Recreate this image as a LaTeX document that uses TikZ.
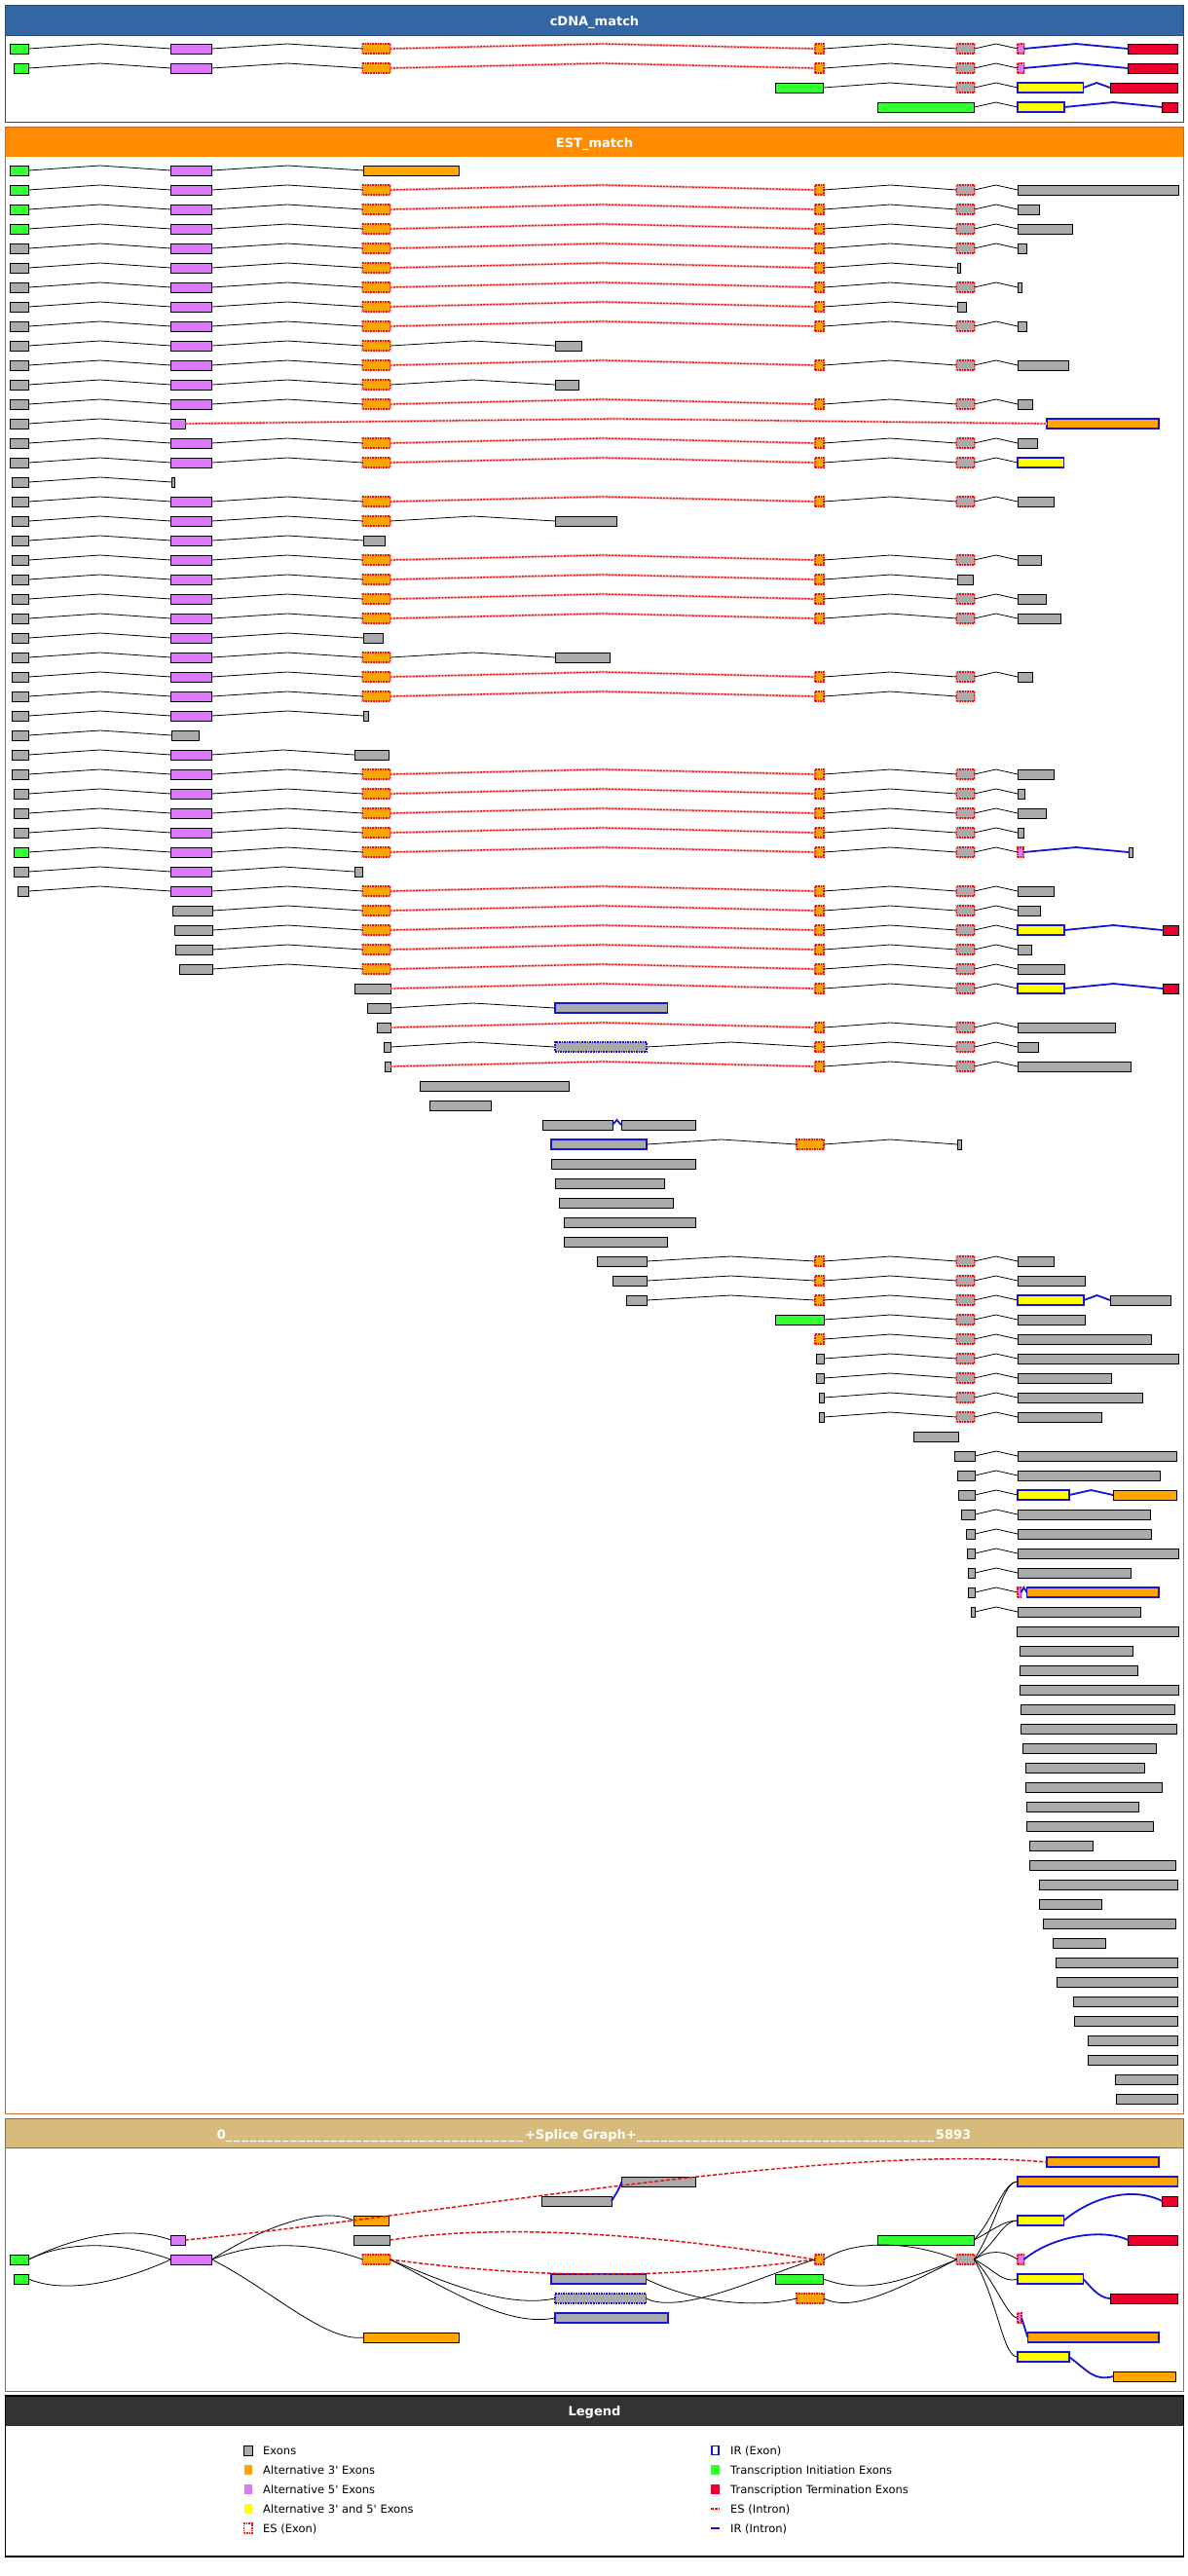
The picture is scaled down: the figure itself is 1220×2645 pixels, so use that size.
\documentclass[tikz,border=0pt]{standalone}
\usepackage{fontspec}
\usepackage{tikz}
\usetikzlibrary{calc}
\newfontfamily\df{DejaVu Sans}
\definecolor{cgray}{RGB}{170,170,170}
\definecolor{cgreen}{RGB}{51,255,51}
\definecolor{cpink}{RGB}{220,120,250}
\definecolor{corange}{RGB}{255,165,0}
\definecolor{cred}{RGB}{235,0,45}
\definecolor{cyellow}{RGB}{255,255,0}
\definecolor{cesred}{RGB}{225,20,20}
\definecolor{cirblue}{RGB}{20,20,210}
\definecolor{hblue}{RGB}{52,101,164}
\definecolor{hbborder}{RGB}{45,75,110}
\definecolor{horange}{RGB}{255,140,0}
\definecolor{hoborder}{RGB}{205,100,40}
\definecolor{htan}{RGB}{214,187,124}
\definecolor{htborder}{RGB}{125,112,95}
\definecolor{hdark}{RGB}{51,51,51}
\tikzset{
 exon/.style={rectangle, draw=black, line width=0.9pt, minimum height=10pt, inner sep=0pt, outer sep=0pt},
 eG/.style={fill=cgray}, eN/.style={fill=cgreen}, eP/.style={fill=cpink},
 eO/.style={fill=corange}, eR/.style={fill=cred}, eY/.style={fill=cyellow},
 esb/.style={draw=cesred, line width=1.1pt, dash pattern=on 1.6pt off 1pt, preaction={draw=cesred!30, line width=2.6pt, solid}},
 irb/.style={draw=cirblue, line width=1.6pt},
 ird/.style={draw=cirblue, line width=1.4pt, dash pattern=on 1.6pt off 1pt},
 eGS/.style={eG,esb}, eOS/.style={eO,esb}, ePS/.style={eP,esb},
 eOB/.style={eO,irb}, eYB/.style={eY,irb}, eGB/.style={eG,irb}, eGD/.style={eG,ird},
 intron/.style={draw=black, line width=0.8pt},
 esintron/.style={draw=cesred, line width=1.3pt, dash pattern=on 2.2pt off 1.1pt, preaction={draw=cesred!22, line width=2.8pt, solid}},
 irintron/.style={draw=cirblue, line width=1.8pt},
 sgedge/.style={draw=black, line width=0.8pt},
 sgred/.style={draw=cesred, line width=1.5pt, dash pattern=on 4pt off 2pt},
 sgblue/.style={draw=cirblue, line width=1.8pt},
 hdr/.style={text=white, font=\df\bfseries\fontsize{13pt}{15pt}\selectfont, anchor=base, inner sep=0pt},
 leg/.style={text=black, font=\df\fontsize{11.5pt}{13pt}\selectfont, anchor=base west, inner sep=0pt},
 licon/.style={rectangle, minimum width=8.5pt, minimum height=10pt, inner sep=0pt, outer sep=0pt},
}
\newcommand\intr[3]{%
  \ifcase#1\relax\or
    \draw[intron] (#2.east) -- ($(#2.east)!.5!(#3.west)+(0,-5)$) -- (#3.west);%
  \or
    \draw[esintron] (#2.east) -- ($(#2.east)!.5!(#3.west)+(0,-5)$) -- (#3.west);%
  \or
    \draw[irintron] (#2.east) -- ($(#2.east)!.5!(#3.west)+(0,-5)$) -- (#3.west);%
  \fi}
\newcommand\trk[3]{%
  \edef\trklist{#3}%
  \foreach \xa/\xb/\st/\cn [count=\k] in \trklist {%
    \pgfmathsetmacro\w{\xb-\xa}%
    \pgfmathsetmacro\xc{(\xa+\xb)/2}%
    \edef\tmp{\noexpand\node[exon,\st,minimum width=\w pt] (#1-\k) at (\xc,#2) {};}%
    \tmp
    \ifnum\cn>0
      \pgfmathtruncatemacro\kp{\k-1}%
      \edef\tmp{\noexpand\intr{\cn}{#1-\kp}{#1-\k}}%
      \tmp
    \fi
  }%
}
\newcommand\sx[5]{\pgfmathsetmacro\w{#4-#3}\pgfmathsetmacro\xc{(#3+#4)/2}\node[exon,#2,minimum width=\w pt] (#1) at (\xc,#5) {};}
\newcommand\sge[5][sgedge]{\draw[#1] (#2.east) .. controls +(#4) and +(#5) .. (#3.west);}
\newcommand\chB[2]{#1/29.5/#2/0,175.5/217.5/eP/1}
\newcommand\chC[2]{\chB{#1}{#2},372.5/400.5/eOS/1}
\newcommand\chF[2]{\chC{#1}{#2},837/846/eOS/2}
\newcommand\chH[2]{\chF{#1}{#2},982.5/1000.5/eGS/1}
\newcommand\chM{372.5/400.5/eOS/1,837/846/eOS/2,982.5/1000.5/eGS/1}
\newcommand\chT{837/846/eOS/1,982.5/1000.5/eGS/1}
\newcommand\uf{\_\kern1.8pt}
\newcommand\ut{\uf\uf\uf\uf\uf\uf\uf\uf\uf\uf}
\begin{document}
\begin{tikzpicture}[x=1pt,y=-1pt]
\useasboundingbox (0,0) rectangle (1220,2645);
\fill[white] (0,0) rectangle (1220,2645);
% ---------- cDNA panel
\fill[hblue] (5.5,5) rectangle (1215.5,36);
\draw[hbborder, line width=1pt] (5.5,5) rectangle (1215.5,125);
\draw[hbborder, line width=0.8pt] (5.5,36) -- (1215.5,36);
\node[hdr] (hcdna) at (610.5,26) {cDNA\_match};
\trk{c1}{50}{\chH{10.5}{eN},1045/1051.5/ePS/1,1158.5/1209/eR/3}
\trk{c2}{70}{\chH{14.5}{eN},1045/1051.5/ePS/1,1158.5/1209/eR/3}
\trk{c3}{90}{796.5/845.5/eN/0,982.5/1000.5/eGS/1,1045/1112.5/eYB/1,1140/1209/eR/3}
\trk{c4}{110}{901.5/1000.5/eN/0,1045/1093/eYB/1,1193.5/1209/eR/3}
% ---------- EST panel
\fill[horange] (5.5,130.5) rectangle (1215.5,160.5);
\draw[hoborder, line width=1pt] (5.5,130.5) rectangle (1215.5,2170);
\node[hdr] (hest) at (610.5,151.5) {EST\_match};
\trk{e0}{175}{\chB{10.5}{eN},373.5/471.5/eO/1}
\trk{e1}{195}{\chH{10.5}{eN},1045/1210/eG/1}
\trk{e2}{215}{\chH{10.5}{eN},1045/1067.5/eG/1}
\trk{e3}{235}{\chH{10.5}{eN},1045/1101/eG/1}
\trk{e4}{255}{\chH{10.5}{eG},1045/1054.5/eG/1}
\trk{e5}{275}{\chF{10.5}{eG},983/986/eG/1}
\trk{e6}{295}{\chH{10.5}{eG},1045/1049/eG/1}
\trk{e7}{315}{\chF{10.5}{eG},983/992/eG/1}
\trk{e8}{335}{\chH{10.5}{eG},1045/1054.5/eG/1}
\trk{e9}{355}{\chC{10.5}{eG},570.5/597/eG/1}
\trk{e10}{375}{\chH{10.5}{eG},1045/1097/eG/1}
\trk{e11}{395}{\chC{10.5}{eG},570.5/594.5/eG/1}
\trk{e12}{415}{\chH{10.5}{eG},1045/1060/eG/1}
\trk{e13}{435}{10.5/29.5/eG/0,175.5/190.5/eP/1,1075/1190/eOB/2}
\trk{e14}{455}{\chH{10.5}{eG},1045/1065/eG/1}
\trk{e15}{475}{\chH{10.5}{eG},1045/1092.5/eYB/1}
\trk{e16}{495}{12.5/29.5/eG/0,176/179/eG/1}
\trk{e17}{515}{\chH{12.5}{eG},1045/1082/eG/1}
\trk{e18}{535}{\chC{12.5}{eG},570.5/633.5/eG/1}
\trk{e19}{555}{\chB{12.5}{eG},373.5/395/eG/1}
\trk{e20}{575}{\chH{12.5}{eG},1045/1069/eG/1}
\trk{e21}{595}{\chF{12.5}{eG},983/999/eG/1}
\trk{e22}{615}{\chH{12.5}{eG},1045/1074/eG/1}
\trk{e23}{635}{\chH{12.5}{eG},1045/1089/eG/1}
\trk{e24}{655}{\chB{12.5}{eG},373.5/393/eG/1}
\trk{e25}{675}{\chC{12.5}{eG},570.5/626.5/eG/1}
\trk{e26}{695}{\chH{12.5}{eG},1045/1060/eG/1}
\trk{e27}{715}{\chH{12.5}{eG}}
\trk{e28}{735}{\chB{12.5}{eG},373.5/378/eG/1}
\trk{e29}{755}{12.5/29.5/eG/0,176/204/eG/1}
\trk{e30}{775}{\chB{12.5}{eG},364/399/eG/1}
\trk{e31}{795}{\chH{12.5}{eG},1045/1082/eG/1}
\trk{e32}{815}{\chH{14}{eG},1045/1052/eG/1}
\trk{e33}{835}{\chH{14}{eG},1045/1074/eG/1}
\trk{e34}{855}{\chH{14}{eG},1045/1051/eG/1}
\trk{e35}{875}{\chH{14}{eN},1045/1051/ePS/1,1159/1163/eG/3}
\trk{e36}{895}{\chB{14}{eG},364/372/eG/1}
\trk{e37}{915}{\chH{18.5}{eG},1045/1082.5/eG/1}
\trk{e38}{935}{177.5/218/eG/0,\chM,1045/1068/eG/1}
\trk{e39}{955}{179/218/eG/0,\chM,1045/1093/eYB/1,1194/1210/eR/3}
\trk{e40}{975}{180.5/218/eG/0,\chM,1045/1059/eG/1}
\trk{e41}{995}{184.5/218/eG/0,\chM,1045/1093/eG/1}
\trk{e42}{1015}{364/401/eG/0,837/846/eOS/2,982.5/1000.5/eGS/1,1045/1093/eYB/1,1194/1210/eR/3}
\trk{e43}{1035}{377/401/eG/0,570/685.5/eGB/1}
\trk{e44}{1055}{387/401/eG/0,837/846/eOS/2,982.5/1000.5/eGS/1,1045/1145.5/eG/1}
\trk{e45}{1075}{394/401/eG/0,570/664/eGD/1,\chT,1045/1066/eG/1}
\trk{e46}{1095}{395/401/eG/0,837/846/eOS/2,982.5/1000.5/eGS/1,1045/1161/eG/1}
\trk{e47}{1115}{431/584.5/eG/0}
\trk{e48}{1135}{441/504/eG/0}
\trk{e49}{1155}{557/629/eG/0,638/714/eG/3}
\trk{e50}{1175}{566/664/eGB/0,818/846/eOS/1,983/987/eG/1}
\trk{e51}{1195}{566/714/eG/0}
\trk{e52}{1215}{570/682.5/eG/0}
\trk{e53}{1235}{574/691/eG/0}
\trk{e54}{1255}{579/714/eG/0}
\trk{e55}{1275}{579/685.5/eG/0}
\trk{e56}{1295}{613/664/eG/0,\chT,1045/1082.5/eG/1}
\trk{e57}{1315}{629/664/eG/0,\chT,1045/1114/eG/1}
\trk{e58}{1335}{643.5/664/eG/0,\chT,1045/1113/eYB/1,1140/1202/eG/3}
\trk{e59}{1355}{796.5/846/eN/0,982.5/1000.5/eGS/1,1045/1114/eG/1}
\trk{e60}{1375}{837/846/eOS/0,982.5/1000.5/eGS/1,1045/1182/eG/1}
\trk{e61}{1395}{838/846/eG/0,982.5/1000.5/eGS/1,1045/1210/eG/1}
\trk{e62}{1415}{838/846/eG/0,982.5/1000.5/eGS/1,1045/1141.5/eG/1}
\trk{e63}{1435}{841/846/eG/0,982.5/1000.5/eGS/1,1045/1173.5/eG/1}
\trk{e64}{1455}{841/846/eG/0,982.5/1000.5/eGS/1,1045/1131/eG/1}
\trk{e65}{1475}{938/984.5/eG/0}
\trk{e66}{1495}{980/1001/eG/0,1045/1208.5/eG/1}
\trk{e67}{1515}{983/1001/eG/0,1045/1191.5/eG/1}
\trk{e68}{1535}{984.5/1001/eG/0,1045/1098/eYB/1,1143/1208/eO/3}
\trk{e69}{1555}{987/1001/eG/0,1045/1181/eG/1}
\trk{e70}{1575}{992/1001/eG/0,1045/1182/eG/1}
\trk{e71}{1595}{993/1001/eG/0,1045/1210/eG/1}
\trk{e72}{1615}{994.5/1001/eG/0,1045/1161/eG/1}
\trk{e73}{1635}{994.5/1001/eG/0,1045/1048.5/ePS/1,1054.5/1190/eOB/3}
\trk{e74}{1655}{997/1001/eG/0,1045/1171/eG/1}
\trk{e75}{1675}{1044.5/1210/eG/0}
\trk{e76}{1695}{1047.5/1163.5/eG/0}
\trk{e77}{1715}{1047.5/1168/eG/0}
\trk{e78}{1735}{1047.5/1210/eG/0}
\trk{e79}{1755}{1048/1206/eG/0}
\trk{e80}{1775}{1048/1208/eG/0}
\trk{e81}{1795}{1050.5/1187.5/eG/0}
\trk{e82}{1815}{1053/1175.5/eG/0}
\trk{e83}{1835}{1053/1193.5/eG/0}
\trk{e84}{1855}{1054/1169.5/eG/0}
\trk{e85}{1875}{1054/1184.5/eG/0}
\trk{e86}{1895}{1057.5/1122.5/eG/0}
\trk{e87}{1915}{1057.5/1207/eG/0}
\trk{e88}{1935}{1067/1209.5/eG/0}
\trk{e89}{1955}{1067/1131.5/eG/0}
\trk{e90}{1975}{1071.5/1207.5/eG/0}
\trk{e91}{1995}{1081/1135/eG/0}
\trk{e92}{2015}{1084/1209.5/eG/0}
\trk{e93}{2035}{1085/1209.5/eG/0}
\trk{e94}{2055}{1102/1209.5/eG/0}
\trk{e95}{2075}{1103/1209.5/eG/0}
\trk{e96}{2095}{1117/1209.5/eG/0}
\trk{e97}{2115}{1117/1209.5/eG/0}
\trk{e98}{2135}{1145/1209.5/eG/0}
\trk{e99}{2155}{1146/1209.5/eG/0}
% ---------- Splice graph panel
\fill[htan] (5.5,2175) rectangle (1215.5,2205.5);
\draw[htborder, line width=1pt] (5.5,2175) rectangle (1215.5,2455.5);
\draw[htborder, line width=0.8pt] (5.5,2205.5) -- (1215.5,2205.5);
\node[hdr] (hsg) at (610,2196) {0\ut\ut\ut\uf\uf\uf\uf\uf\uf\uf+Splice Graph+\ut\ut\ut\uf\uf\uf\uf\uf\uf\uf5893};
\sx{s1}{eN}{10.5}{29.5}{2320}
\sx{s2}{eN}{14.5}{29.5}{2340}
\sx{s3}{eP}{175.5}{190}{2300}
\sx{s4}{eP}{175.5}{217.5}{2320}
\sx{s5}{eO}{363.5}{399}{2280}
\sx{s6}{eG}{363.5}{400.5}{2300}
\sx{s7}{eOS}{372.5}{400.5}{2320}
\sx{s8}{eO}{373.5}{471.5}{2400}
\sx{s9}{eG}{556}{628}{2260}
\sx{s10}{eG}{638.5}{714}{2240}
\sx{s11}{eGB}{566}{663.5}{2340}
\sx{s12}{eGD}{570}{663.5}{2360}
\sx{s13}{eGB}{570}{686}{2380}
\sx{s14}{eOB}{1075}{1190}{2220}
\sx{s15}{eOB}{1045}{1209.5}{2240}
\sx{s16}{eR}{1193.5}{1209.5}{2260}
\sx{s17}{eYB}{1045}{1092.5}{2280}
\sx{s18}{eN}{901.5}{1000}{2300}
\sx{s19}{eR}{1158.5}{1209.5}{2300}
\sx{s20}{eOS}{837}{846}{2320}
\sx{s21}{eGS}{982.5}{1000.5}{2320}
\sx{s22}{ePS}{1045}{1051.5}{2320}
\sx{s23}{eN}{796.5}{845.5}{2340}
\sx{s24}{eYB}{1045}{1112.5}{2340}
\sx{s25}{eOS}{818}{846}{2360}
\sx{s26}{eR}{1140}{1209.5}{2360}
\sx{s27}{ePS}{1045}{1049}{2380}
\sx{s28}{eOB}{1055.5}{1190}{2400}
\sx{s29}{eYB}{1045}{1098}{2420}
\sx{s30}{eO}{1143.5}{1207}{2440}
\sge{s1}{s3}{50,-25}{-40,-15}
\sge{s1}{s4}{40,-20}{-50,-18}
\sge{s2}{s4}{35,15}{-55,25}
\sge{s4}{s5}{40,-25}{-40,-18}
\sge{s4}{s7}{50,-20}{-50,-18}
\sge{s4}{s8}{60,30}{-40,5}
\sge[sgred]{s3}{s14}{260,-25}{-225,-20}
\sge[sgred]{s6}{s20}{120,-18}{-160,-25}
\sge[sgred]{s7}{s20}{150,20}{-150,20}
\sge{s7}{s12}{60,25}{-50,10}
\sge{s7}{s13}{60,30}{-50,10}
\sge{s11}{s25}{50,25}{-40,10}
\sge{s12}{s20}{36,18}{-50,15}
\sge[sgblue]{s9}{s10}{5,-8}{-3,8}
\sge{s23}{s21}{40,15}{-60,25}
\sge{s20}{s21}{30,-20}{-50,-20}
\sge{s25}{s21}{30,15}{-60,30}
\sge{s18}{s15}{20,-20}{-15,0}
\sge{s18}{s17}{20,-10}{-15,0}
\sge{s21}{s15}{25,-40}{-15,0}
\sge{s21}{s17}{25,-20}{-15,0}
\sge{s21}{s22}{15,-10}{-15,-10}
\sge{s21}{s24}{20,10}{-15,5}
\sge{s21}{s27}{20,20}{-10,0}
\sge{s21}{s29}{25,45}{-15,0}
\sge[sgblue]{s17}{s16}{30,-25}{-30,-15}
\sge[sgblue]{s22}{s19}{30,-25}{-25,-12}
\sge[sgblue]{s24}{s26}{5,5}{-12,0}
\sge[sgblue]{s27}{s28}{2,5}{-2,-5}
\sge[sgblue]{s29}{s30}{20,15}{-20,5}
% ---------- Legend
\fill[hdark] (5.5,2460) rectangle (1215.5,2491);
\draw[black, line width=1.2pt] (5.5,2460) rectangle (1215.5,2625);
\node[hdr] (hleg) at (610.5,2480) {Legend};
\node[licon, fill=cgray, draw=black, line width=0.9pt] (l1) at (254.75,2516) {};
\node[licon, fill=corange] (l2) at (254.75,2536) {};
\node[licon, fill=cpink] (l3) at (254.75,2556) {};
\node[licon, fill=cyellow] (l4) at (254.75,2576) {};
\node[licon, fill=white, draw=cesred, line width=1.1pt, dash pattern=on 1.6pt off 1pt] (l5) at (254.75,2596) {};
\node[licon, fill=white, draw=cirblue, line width=1.8pt, minimum width=7.5pt, minimum height=9pt] (r1) at (734.5,2516) {};
\node[licon, fill=cgreen] (r2) at (734.5,2536) {};
\node[licon, fill=cred] (r3) at (734.5,2556) {};
\coordinate (r4a) at (730,2576); \coordinate (r4b) at (739,2576);
\draw[draw=cesred, line width=1.4pt, dash pattern=on 2.5pt off 1.5pt] (r4a) -- (r4b);
\coordinate (r5a) at (730,2596); \coordinate (r5b) at (739,2596);
\draw[irintron] (r5a) -- (r5b);
\node[leg] (t1) at (270,2520) {Exons};
\node[leg] (t2) at (270,2540) {Alternative 3' Exons};
\node[leg] (t3) at (270,2560) {Alternative 5' Exons};
\node[leg] (t4) at (270,2580) {Alternative 3' and 5' Exons};
\node[leg] (t5) at (270,2600) {ES (Exon)};
\node[leg] (t6) at (750,2520) {IR (Exon)};
\node[leg] (t7) at (750,2540) {Transcription Initiation Exons};
\node[leg] (t8) at (750,2560) {Transcription Termination Exons};
\node[leg] (t9) at (750,2580) {ES (Intron)};
\node[leg] (t10) at (750,2600) {IR (Intron)};
\end{tikzpicture}
\end{document}
